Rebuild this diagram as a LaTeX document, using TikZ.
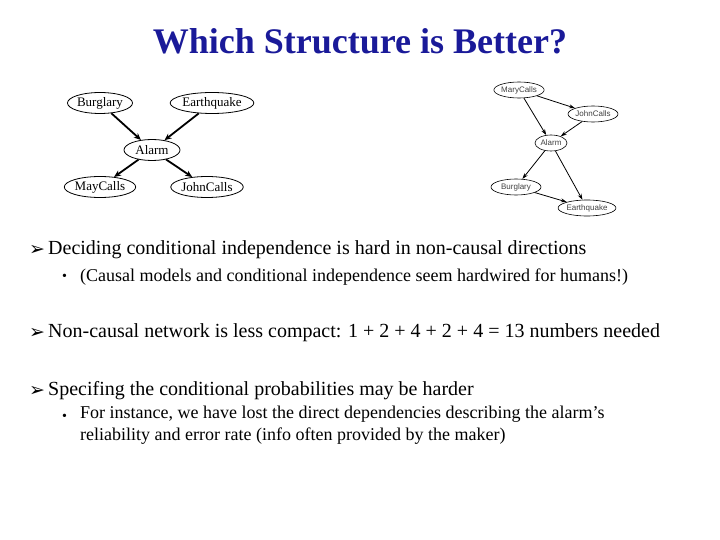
\documentclass[tikz,border=0pt]{standalone}
\usepackage{fontspec}
\setmainfont{Liberation Serif}
\newfontfamily\dejavu{DejaVu Sans}
\newfontfamily\lsans{Liberation Sans}
\usetikzlibrary{shapes.geometric,arrows.meta}
\definecolor{titleblue}{RGB}{26,26,153}
\tikzset{
 lnode/.style={ellipse,draw,thick,minimum width=56pt,minimum height=21pt,inner sep=0pt,font=\fontsize{13}{13}\selectfont},
 rnode/.style={ellipse,draw,semithick,minimum width=50pt,minimum height=16pt,inner sep=0pt,font=\lsans\fontsize{8}{8}\selectfont\color{black!75}},
 larr/.style={-{Stealth[length=7pt,width=6pt]},line width=1.8pt},
 rarr/.style={-{Stealth[length=6pt,width=4pt]},thick},
 txt/.style={anchor=west,inner sep=0pt,font=\fontsize{20}{22}\selectfont},
 subtxt/.style={anchor=west,inner sep=0pt,font=\fontsize{18}{22}\selectfont,align=left},
 bul/.style={anchor=west,inner sep=0pt,font=\dejavu\fontsize{19}{19}\selectfont},
 sbul/.style={anchor=west,inner sep=0pt,font=\fontsize{14}{14}\selectfont}
}
\begin{document}
\begin{tikzpicture}[x=1pt,y=-1pt]
\useasboundingbox (0,0) rectangle (720,540);
\node[font=\bfseries\fontsize{36}{36}\selectfont,text=titleblue] (title) at (360,41) {Which Structure is Better?};
% left
\node[lnode] (b) at (100,103) {Burglary};
\node[lnode,minimum width=68pt] (e) at (212,103) {Earthquake};
\node[lnode] (a) at (152,150) {Alarm};
\node[lnode,minimum width=58pt] (m) at (100,187) {MayCalls};
\node[lnode,minimum width=60pt] (j) at (207,187) {JohnCalls};
\draw[larr] (b) -- (a);
\draw[larr] (e) -- (a);
\draw[larr] (a) -- (m);
\draw[larr] (a) -- (j);
% right
\node[rnode] (rm) at (519,90) {MaryCalls};
\node[rnode] (rj) at (593,114) {JohnCalls};
\node[rnode,minimum width=32pt] (ra) at (551,143) {Alarm};
\node[rnode,minimum width=50pt] (rb) at (516,187) {Burglary};
\node[rnode,minimum width=56pt] (re) at (587,208) {Earthquake};
\draw[rarr] (rm) -- (rj);
\draw[rarr] (rm) -- (ra);
\draw[rarr] (rj) -- (ra);
\draw[rarr] (ra) -- (rb);
\draw[rarr] (ra) -- (re);
\draw[rarr] (rb) -- (re);
% text
\node[bul] (b1) at (29,250) {➢};
\node[txt] (t1) at (48,250) {Deciding conditional independence is hard in non-causal directions};
\node[sbul] (s1) at (62,277) {•};
\node[subtxt] (u1) at (80,277) {(Causal models and conditional independence seem hardwired for humans!)};
\node[bul] (b2) at (29,333) {➢};
\node[txt] (t2) at (48,333) {Non-causal network is less compact: 1 + 2 + 4 + 2 + 4 = 13 numbers needed};
\node[bul] (b3) at (29,391) {➢};
\node[txt] (t3) at (48,391) {Specifing the conditional probabilities may be harder};
\node[sbul] (s3) at (62,417) {•};
\node[subtxt,anchor=north west] (u3) at (80,406) {For instance, we have lost the direct dependencies describing the alarm’s\\reliability and error rate (info often provided by the maker)};
\end{tikzpicture}
\end{document}
